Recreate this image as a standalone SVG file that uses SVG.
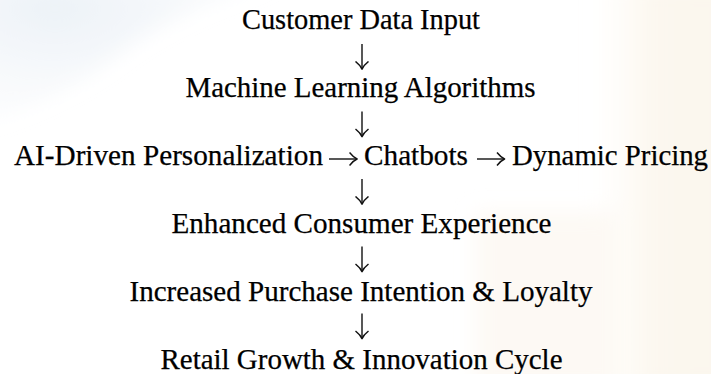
<svg xmlns="http://www.w3.org/2000/svg" width="711" height="374" viewBox="0 0 711 374">
  <defs>
    <style>
      .t { font-family: "Liberation Serif", "Times New Roman", serif; font-size: 28.5px; fill: #000; stroke: #000; stroke-width: 0.25; }
      .c { text-anchor: middle; }
      .arrow { stroke: #111; stroke-width: 1.4; fill: none; marker-end: url(#head); }
    </style>
    <marker id="head" viewBox="-8 -8 10 16" refX="0" refY="0" markerWidth="10" markerHeight="16" markerUnits="userSpaceOnUse" orient="auto">
      <path d="M-7 -6.5 Q-3 -1.5 0.6 0 Q-3 1.5 -7 6.5" fill="none" stroke="#111" stroke-width="1.5" stroke-linejoin="round"/>
    </marker>
    <radialGradient id="blueHaze" cx="0.25" cy="0.2" r="0.8">
      <stop offset="0" stop-color="#eaf0f6" stop-opacity="0.9"/>
      <stop offset="1" stop-color="#f2f5f9" stop-opacity="0.2"/>
    </radialGradient>
    <linearGradient id="warmHaze" x1="0" y1="0" x2="1" y2="0">
      <stop offset="0" stop-color="#fdf9f2" stop-opacity="0"/>
      <stop offset="0.4" stop-color="#fcf7ee" stop-opacity="0.9"/>
      <stop offset="1" stop-color="#fbf6ec" stop-opacity="0.9"/>
    </linearGradient>
    <filter id="soft" x="-20%" y="-20%" width="140%" height="140%">
      <feGaussianBlur stdDeviation="10"/>
    </filter>
  </defs>

  <!-- background -->
  <rect width="711" height="374" fill="#ffffff"/>
  <g filter="url(#soft)">
    <path d="M-20 -20 H280 Q170 10 110 60 Q55 100 -20 125 Z" fill="url(#blueHaze)"/>
    <rect x="595" y="-20" width="140" height="414" fill="url(#warmHaze)"/>
    <rect x="475" y="212" width="140" height="180" fill="#fcf8f1" opacity="0.8"/>
  </g>

  <!-- nodes -->
  <g id="customer-data-input"><text class="t c" x="361" y="29" textLength="238" lengthAdjust="spacingAndGlyphs">Customer Data Input</text></g>
  <g id="machine-learning"><text class="t c" x="360.5" y="97" textLength="350" lengthAdjust="spacingAndGlyphs">Machine Learning Algorithms</text></g>
  <g id="ai-personalization"><text class="t" x="14" y="165" textLength="309" lengthAdjust="spacingAndGlyphs">AI-Driven Personalization</text></g>
  <g id="chatbots"><text class="t" x="364" y="165" textLength="104" lengthAdjust="spacingAndGlyphs">Chatbots</text></g>
  <g id="dynamic-pricing"><text class="t" x="512" y="165" textLength="196" lengthAdjust="spacingAndGlyphs">Dynamic Pricing</text></g>
  <g id="consumer-experience"><text class="t c" x="361.5" y="233" textLength="380" lengthAdjust="spacingAndGlyphs">Enhanced Consumer Experience</text></g>
  <g id="purchase-loyalty"><text class="t c" x="361" y="301" textLength="463" lengthAdjust="spacingAndGlyphs">Increased Purchase Intention &amp; Loyalty</text></g>
  <g id="retail-growth"><text class="t c" x="361.5" y="369" textLength="402" lengthAdjust="spacingAndGlyphs">Retail Growth &amp; Innovation Cycle</text></g>

  <!-- connectors -->
  <g id="connectors">
    <path class="arrow" d="M362 44 V68.5"/>
    <path class="arrow" d="M362 111.5 V136"/>
    <path class="arrow" d="M362 179 V203.5"/>
    <path class="arrow" d="M362 246.5 V271"/>
    <path class="arrow" d="M362 313.5 V338"/>
    <path class="arrow" d="M329 159 H356.5"/>
    <path class="arrow" d="M477 159 H504"/>
  </g>
</svg>
